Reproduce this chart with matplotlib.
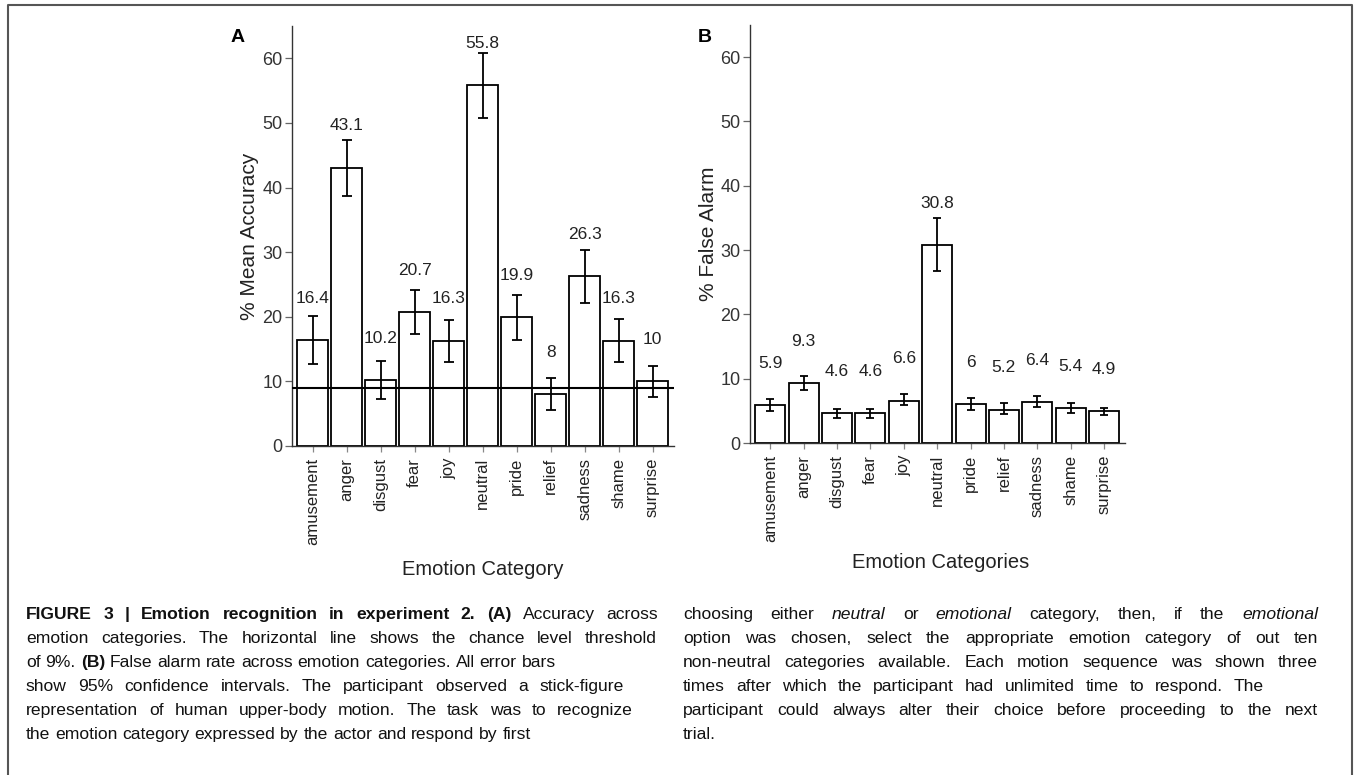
import matplotlib
matplotlib.use("Agg")
import matplotlib.pyplot as plt
from matplotlib.lines import Line2D
import numpy as np

plt.rcParams["font.family"] = ["Liberation Sans", "DejaVu Sans"]

# data
categories = ["amusement", "anger", "disgust", "fear", "joy", "neutral",
              "pride", "relief", "sadness", "shame", "surprise"]
acc_mean = [16.4, 43.1, 10.2, 20.7, 16.3, 55.8, 19.9, 8, 26.3, 16.3, 10]
acc_lo = [12.7, 38.7, 7.3, 17.3, 13.0, 50.8, 16.4, 5.5, 22.2, 13.0, 7.6]
acc_hi = [20.1, 47.4, 13.1, 24.1, 19.5, 60.8, 23.3, 10.5, 30.3, 19.6, 12.4]
fa_mean = [5.9, 9.3, 4.6, 4.6, 6.6, 30.8, 6, 5.2, 6.4, 5.4, 4.9]
fa_lo = [5.0, 8.3, 3.95, 3.95, 5.85, 26.7, 5.1, 4.45, 5.6, 4.7, 4.3]
fa_hi = [6.85, 10.4, 5.35, 5.35, 7.55, 35.0, 7.0, 6.2, 7.35, 6.2, 5.5]
chance_level = 9
y_ticks = [0, 10, 20, 30, 40, 50, 60]

caption_left = [
    [("b", "FIGURE 3 | Emotion recognition in experiment 2."), ("b", "(A)"), ("r", "Accuracy across")],
    [("r", "emotion categories. The horizontal line shows the chance level threshold")],
    [("r", "of 9%."), ("b", "(B)"), ("r", "False alarm rate across emotion categories. All error bars")],
    [("r", "show 95% confidence intervals. The participant observed a stick-figure")],
    [("r", "representation of human upper-body motion. The task was to recognize")],
    [("r", "the emotion category expressed by the actor and respond by first")],
]
caption_right = [
    [("r", "choosing either"), ("i", "neutral"), ("r", "or"), ("i", "emotional"),
     ("r", "category, then, if the"), ("i", "emotional")],
    [("r", "option was chosen, select the appropriate emotion category of out ten")],
    [("r", "non-neutral categories available. Each motion sequence was shown three")],
    [("r", "times after which the participant had unlimited time to respond. The")],
    [("r", "participant could always alter their choice before proceeding to the next")],
    [("r", "trial.")],
]
left_ends = [658, 657, None, 624, 633, None]
right_ends = [1318, 1318, 1318, 1264, 1318, None]

W, H = 1357, 775
fig = plt.figure(figsize=(W / 100, H / 100), dpi=100)


def px(x, y):
    return x / W, 1 - y / H


def panel(rect, means, lo, hi, capsize, ylabel, xlabel, xl_pos, yl_pos):
    ax = fig.add_axes(rect)
    x = np.arange(len(categories))
    means = np.array(means)
    yerr = [means - np.array(lo), np.array(hi) - means]
    ax.bar(x, means, width=0.9, color="white", edgecolor="black", linewidth=1.3, zorder=2)
    ax.errorbar(x, means, yerr=yerr, fmt="none", ecolor="black", elinewidth=1.3,
                capsize=capsize, capthick=1.3, zorder=3)
    for xi, m in zip(x, means):
        ax.text(xi, m + 6.5, f"{m:g}", ha="center", va="center", fontsize=12.5, color="#222")
    ax.set_xlim(-0.61, 10.63)
    ax.set_ylim(0, 65)
    ax.set_yticks(y_ticks)
    ax.set_xticks(x, categories, rotation=90)
    for s in ["top", "right"]:
        ax.spines[s].set_visible(False)
    for s in ["left", "bottom"]:
        ax.spines[s].set_color("#333")
        ax.spines[s].set_linewidth(1.0)
    ax.tick_params(axis="y", length=5, width=0.9, pad=2, color="#666",
                   labelcolor="#333", labelsize=13)
    ax.tick_params(axis="x", length=4.5, width=0.9, pad=4, color="#888",
                   labelcolor="#222", labelsize=12)
    ax.set_ylabel(ylabel, fontsize=15, color="#222", va="center")
    ax.yaxis.set_label_coords(*yl_pos)
    ax.set_xlabel(xlabel, fontsize=14.5, color="#222", va="center")
    ax.xaxis.set_label_coords(*xl_pos)
    return ax


ax_a = panel([292 / W, 1 - 446 / H, 382 / W, 420 / H], acc_mean, acc_lo, acc_hi, 3.6,
             "% Mean Accuracy", "Emotion Category", (0.5, -0.293), (-0.11, 0.5))
ax_a.axhline(chance_level, color="black", linewidth=1.5, zorder=4)
ax_b = panel([750 / W, 1 - 443 / H, 375 / W, 418 / H], fa_mean, fa_lo, fa_hi, 3.2,
             "% False Alarm", "Emotion Categories", (0.507, -0.287), (-0.112, 0.5))

fig.text(*px(238, 37), "A", fontsize=14, fontweight="bold", ha="center", va="center")
fig.text(*px(705, 37), "B", fontsize=14, fontweight="bold", ha="center", va="center")

# frame around the figure
fig.add_artist(Line2D([8 / W, 8 / W, 1352 / W, 1352 / W], [0, 1 - 5 / H, 1 - 5 / H, 0],
                      transform=fig.transFigure, color="#555", linewidth=1.5))

# caption, justified line by line
renderer = fig.canvas.get_renderer()
styles = {"r": {}, "b": {"fontweight": "bold"}, "i": {"fontstyle": "italic"}}


def caption(lines, ends, x0, y0, step=24, size=12.6):
    for k, (segs, x1) in enumerate(zip(lines, ends)):
        words = []
        for st, txt in segs:
            for w in txt.split(" "):
                words.append(fig.text(0, 0, w, fontsize=size, color="#111",
                                      va="baseline", ha="left", **styles[st]))
        widths = [t.get_window_extent(renderer=renderer).width for t in words]
        gap = 0.28 * size * 100 / 72
        if x1 is not None and len(words) > 1:
            gap = max(gap * 0.8, (x1 - x0 - sum(widths)) / (len(words) - 1))
        x = x0
        y = y0 + k * step
        for t, w in zip(words, widths):
            t.set_position(px(x, y))
            x += w + gap


caption(caption_left, left_ends, 26, 619)
caption(caption_right, right_ends, 683, 619)

fig.savefig("out.png", dpi=100)
